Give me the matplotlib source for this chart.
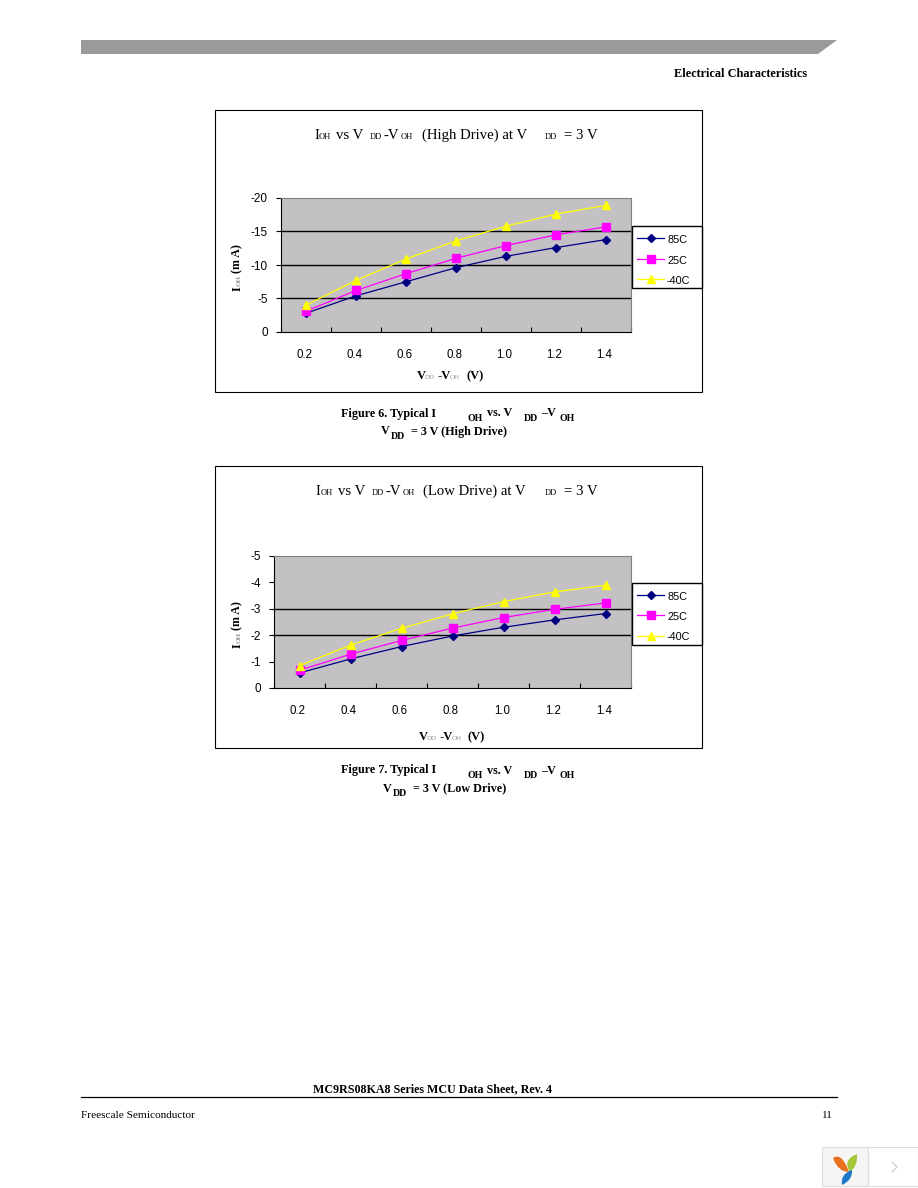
import matplotlib
matplotlib.use("Agg")
import matplotlib.pyplot as plt
from matplotlib.patches import Polygon, Rectangle, PathPatch
from matplotlib.path import Path
from matplotlib.lines import Line2D

W, H = 918, 1188

x_labels = ["0.2", "0.4", "0.6", "0.8", "1.0", "1.2", "1.4"]
series_names = ["85C", "25C", "-40C"]

high_85 = [-2.8, -5.4, -7.5, -9.6, -11.3, -12.6, -13.8]
high_25 = [-3.1, -6.2, -8.7, -11.0, -12.9, -14.5, -15.7]
high_m40 = [-4.0, -7.7, -10.9, -13.6, -15.8, -17.6, -18.9]
high_ticks = [0, -5, -10, -15, -20]
high_grid = [-5, -10, -15]

low_85 = [-0.57, -1.1, -1.57, -1.97, -2.3, -2.58, -2.82]
low_25 = [-0.67, -1.28, -1.8, -2.27, -2.67, -2.98, -3.22]
low_m40 = [-0.85, -1.62, -2.26, -2.81, -3.27, -3.64, -3.89]
low_ticks = [0, -1, -2, -3, -4, -5]
low_grid = [-2, -3]

COLORS = ["#000080", "#FF00FF", "#FFFF00"]
MARKERS = ["D", "s", "^"]
SIZES = [4, 5.5, 6]
PLOT_BG = "#C3C1C4"
SERIF = "Liberation Serif"
SANS = "Liberation Sans"

fig = plt.figure(figsize=(W / 100, H / 100), dpi=100, facecolor="white")


def fx(x):
    return x / W


def fy(y):
    return 1 - y / H


def txt(x, y, s, size=8.7, weight="normal", family=SERIF, ha="left", color="black", **kw):
    fig.text(fx(x), fy(y), s, fontsize=size, fontweight=weight, family=family,
             ha=ha, va="baseline", color=color, **kw)


def px_axes(left, top, right, bottom, **kw):
    return fig.add_axes([fx(left), fy(bottom), (right - left) / W, (bottom - top) / H], **kw)


def draw_chart(box, plot, series, ticks, grid, legend_top):
    # outer frame of the pasted chart
    fig.add_artist(Rectangle((fx(box[0]), fy(box[3])), (box[2] - box[0]) / W, (box[3] - box[1]) / H,
                             transform=fig.transFigure, fc="white", ec="black", lw=0.8))
    ax = px_axes(*plot, facecolor=PLOT_BG, zorder=2)
    pos = [i + 0.5 for i in range(len(x_labels))]
    for vals, name, c, m, ms in zip(series, series_names, COLORS, MARKERS, SIZES):
        ax.plot(pos, vals, color=c, marker=m, ms=ms, mec=c, lw=0.9, label=name, zorder=3, clip_on=False)
    ax.set_xlim(0, 7)
    ax.set_ylim(0, min(ticks))
    ax.set_yticks(ticks)
    ax.set_yticklabels([str(t) for t in ticks], fontsize=8.5, family=SANS)
    ax.set_xticks(range(8))
    ax.set_xticklabels([])
    ax.tick_params(axis="x", direction="in", length=3.5, width=0.8)
    ax.tick_params(axis="y", direction="out", length=3.5, width=0.8, pad=6)
    for t in grid:
        ax.axhline(t, color="black", lw=1, zorder=1)
    for s in ("top", "right"):
        ax.spines[s].set_color("#808080")
    for s in ("left", "bottom"):
        ax.spines[s].set_color("black")
    for p, lab in zip(pos, x_labels):
        ax.annotate(lab, (p, 0), xytext=(-1.2, -19), textcoords="offset points", ha="center",
                    va="baseline", fontsize=8.3, family=SANS, annotation_clip=False)

    # legend box, drawn in pixels to sit on the plot edge
    fig.add_artist(Rectangle((fx(632), fy(legend_top + 61.5)), 69.7 / W, 61.5 / H,
                             transform=fig.transFigure, fc="white", ec="black", lw=1, zorder=5))
    for i, (name, c, m, ms) in enumerate(zip(series_names, COLORS, MARKERS, SIZES)):
        ly = legend_top + 11.5 + i * 20.5
        fig.add_artist(Line2D([fx(637), fx(664)], [fy(ly), fy(ly)], color=c, lw=0.9, zorder=6,
                              transform=fig.transFigure))
        fig.add_artist(Line2D([fx(650.5)], [fy(ly)], color=c, marker=m, ms=ms, mec=c, zorder=6,
                              transform=fig.transFigure))
        txt(667, ly + 5, name, size=7.8, family=SANS, zorder=6)


high = [high_85, high_25, high_m40]
low = [low_85, low_25, low_m40]
draw_chart((215, 110, 702, 392), (281, 198, 631, 332), high, high_ticks, high_grid, 226.5)
draw_chart((215, 466, 702, 748), (274, 556, 631, 688), low, low_ticks, low_grid, 583)

# chart titles, pieces placed by hand because of the sub-scripts
for y0, mode, dx in ((139, "(High Drive) at V", 0), (495, "(Low Drive) at V", 1.5)):
    txt(314 + dx, y0, "I", size=10.6, zorder=7)
    txt(319 + dx, y0, "OH", size=6, zorder=7)
    txt(336 + dx, y0, "vs V", size=10.6, zorder=7)
    txt(370 + dx, y0, "DD", size=6, zorder=7)
    txt(384 + dx, y0, "-V", size=10.6, zorder=7)
    txt(401 + dx, y0, "OH", size=6, zorder=7)
    txt(422 + dx * 0.6, y0, mode, size=10.6, zorder=7)
    txt(545, y0, "DD", size=6, zorder=7)
    txt(564, y0, "= 3 V", size=10.6, zorder=7)

# y axis titles
for yb in (291, 648):
    for yp, s, size, col in ((yb, "I", 8.6, "black"), (yb - 5, "OH", 5, "#999999"), (yb - 18, "(m A)", 8.6, "black")):
        fig.text(fx(240.5), fy(yp), s, rotation=90, rotation_mode="anchor", fontsize=size,
                 fontweight="bold", family=SERIF, ha="left", va="baseline", color=col, zorder=7)

# x axis titles
for xp, yp in ((417, 379), (419, 740)):
    txt(xp, yp, "V", size=9, weight="bold", zorder=7)
    txt(xp + 8, yp, "DD", size=5, color="#999999", zorder=7)
    txt(xp + 20, yp, "-V", size=9, weight="bold", zorder=7)
    txt(xp + 33, yp, "OH", size=5, color="#999999", zorder=7)
    txt(xp + 49, yp, "(V)", size=9, weight="bold", zorder=7)

# figure captions
for y0, num in ((416.5, "Figure 6. Typical I"), (773.5, "Figure 7. Typical I")):
    txt(341, y0, num, weight="bold")
    txt(468, y0 + 4, "OH", size=7, weight="bold")
    txt(487, y0, "vs. V", weight="bold")
    txt(524, y0 + 4, "DD", size=7, weight="bold")
    txt(541, y0, "\u2013V", weight="bold")
    txt(560, y0 + 4, "OH", size=7, weight="bold")
txt(381, 434.5, "V", weight="bold")
txt(391, 438.5, "DD", size=7, weight="bold")
txt(411, 434.5, "= 3 V (High Drive)", weight="bold")
txt(383, 791.5, "V", weight="bold")
txt(393, 795.5, "DD", size=7, weight="bold")
txt(413, 791.5, "= 3 V (Low Drive)", weight="bold")

# page furniture
fig.add_artist(Polygon([(fx(81), fy(40)), (fx(837), fy(40)), (fx(818), fy(54)), (fx(81), fy(54))],
                       transform=fig.transFigure, fc="#9A999B", ec="none"))
txt(807, 77, "Electrical Characteristics", size=8.8, weight="bold", ha="right")
txt(432.5, 1092, "MC9RS08KA8 Series MCU Data Sheet, Rev. 4", size=8.65, weight="bold", ha="center")
fig.add_artist(Line2D([fx(81), fx(837)], [fy(1097), fy(1097)], color="black", lw=0.9,
                      transform=fig.transFigure))
txt(81, 1118, "Freescale Semiconductor", size=8.1)
txt(832, 1118, "11", size=8.1, ha="right")

# viewer badge in the corner
fig.add_artist(Rectangle((fx(822), fy(1185.5)), 46 / W, 38.5 / H, transform=fig.transFigure,
                         fc="#F5F5F5", ec="#DDDDDD", lw=0.8))
fig.add_artist(Rectangle((fx(868), fy(1185.5)), 50 / W, 38.5 / H, transform=fig.transFigure,
                         fc="white", ec="#DDDDDD", lw=0.8))
fig.add_artist(Line2D([fx(892), fx(897), fx(892)], [fy(1162), fy(1167), fy(1172)], color="#C8C8C8",
                      lw=0.8, transform=fig.transFigure))
LEAF = [Path.MOVETO, Path.CURVE3, Path.CURVE3, Path.CURVE3, Path.CURVE3]
for pts, c in (([(833, 1158), (842, 1152), (849, 1172), (838, 1172), (833, 1158)], "#E8701E"),
               ([(850, 1172), (842, 1160), (857, 1154), (858, 1166), (850, 1172)], "#A4C83A"),
               ([(842, 1185), (840, 1174), (852, 1170), (853, 1180), (842, 1185)], "#1F78C8")):
    fig.add_artist(PathPatch(Path([(fx(a), fy(b)) for a, b in pts], LEAF),
                             transform=fig.transFigure, fc=c, ec="none"))

fig.savefig("out.png", dpi=100)
